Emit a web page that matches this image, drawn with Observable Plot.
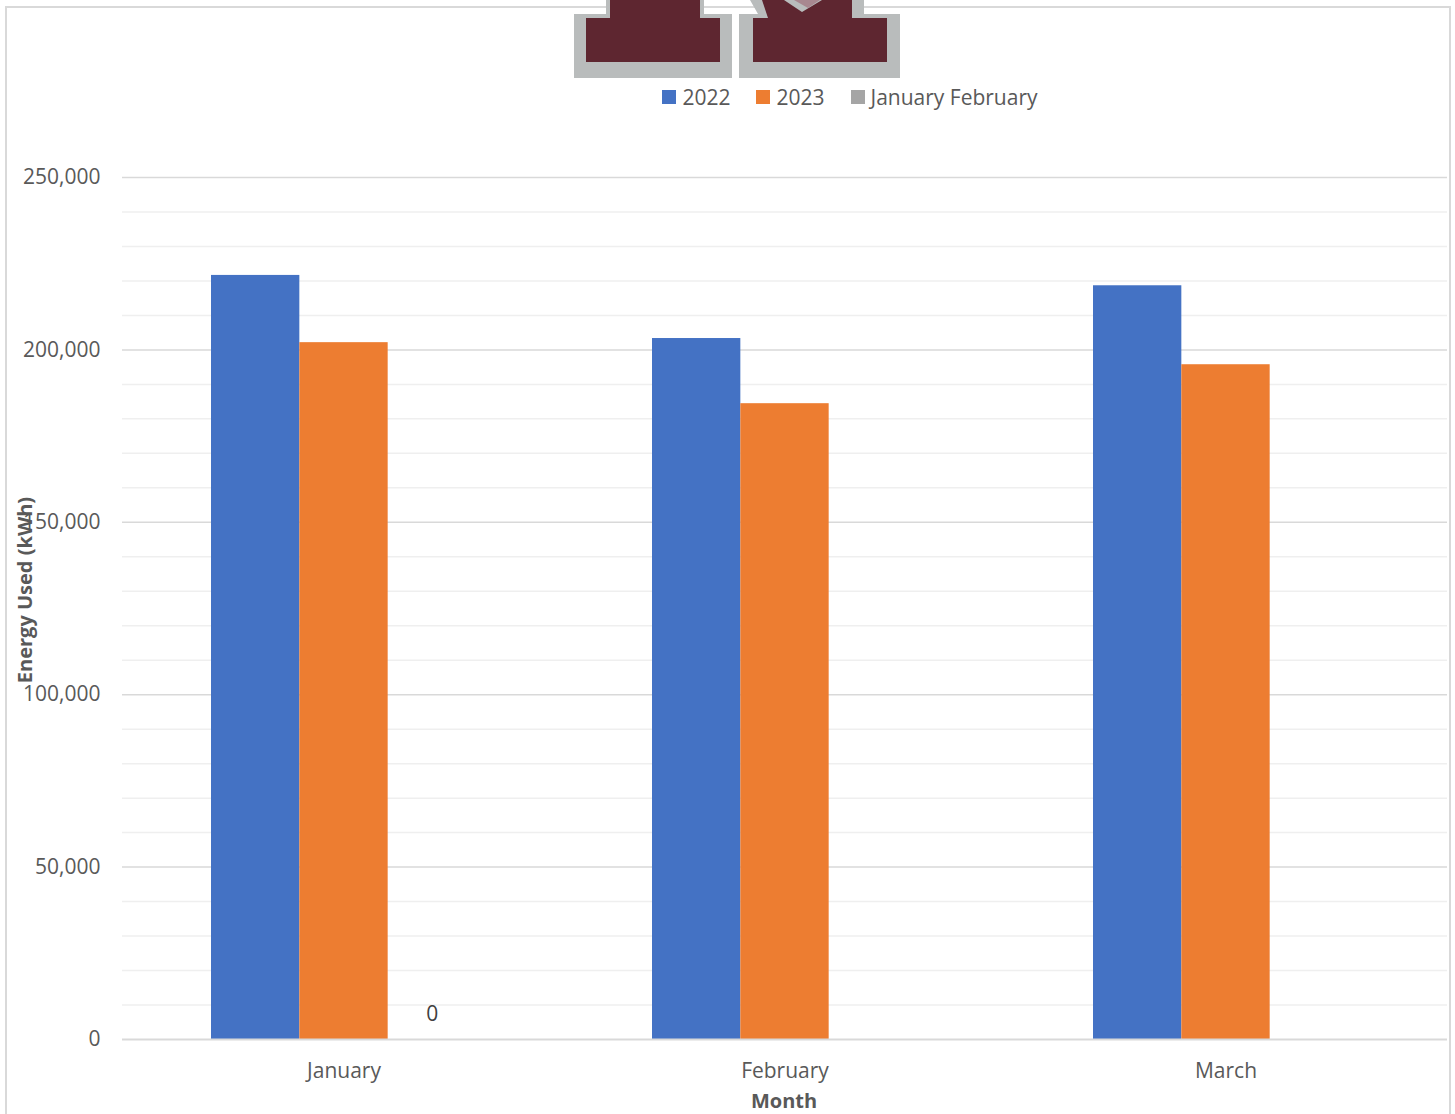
<!DOCTYPE html>
<html>
<head>
<meta charset="utf-8">
<script src="https://cdn.jsdelivr.net/npm/d3@7"></script>
<script src="https://cdn.jsdelivr.net/npm/@observablehq/plot@0.6"></script>
<style>
  html, body { margin: 0; padding: 0; background: #fff; }
  body { width: 1455px; height: 1114px; position: relative; overflow: hidden; font-family: "Open Sans", sans-serif; }
  #frame { position: absolute; left: 5px; top: 6px; width: 1446px; height: 1200px; border: 2px solid #d9d9d9; box-sizing: border-box; }
  #logo { position: absolute; left: 572px; top: 0; }
  #legend { position: absolute; top: 83px; left: 0; width: 1700px; display: flex; justify-content: center; gap: 26px; font-size: 21px; color: #595959; }
  #legend span.item { display: inline-flex; align-items: center; }
  #legend i { display: inline-block; width: 14px; height: 14px; margin-right: 6px; }
  #chart { position: absolute; left: 0; top: 150px; }
  #ytitle { position: absolute; left: 24px; top: 590px; transform: translate(-50%, -50%) rotate(-90deg); font-weight: bold; font-size: 20px; color: #595959; white-space: nowrap; }
  #xtitle { position: absolute; left: 784px; top: 1100px; transform: translate(-50%, -50%); font-weight: bold; font-size: 20px; color: #595959; white-space: nowrap; }
</style>
</head>
<body>
<div id="frame"></div>
<svg id="logo" width="332" height="80" viewBox="0 0 332 80">
  <g>
    <path d="M2 14 H34 V0 H132 V14 H160 V78 H2 Z" fill="#b9bcbc"/>
    <path d="M14 18 H38 V0 H128 V18 H148 V62 H14 Z" fill="#5e2630"/>
    <path d="M167 14 H186 L178 0 H292 V14 H328 V78 H167 Z" fill="#b9bcbc"/>
    <path d="M181 18 H196 L190 0 H212 L230 12 L250 0 H280 V18 H315 V62 H181 Z" fill="#5e2630"/>
    <path d="M222 0 H248 L236 8 Z" fill="#a88890"/>
  </g>
</svg>
<div id="legend"></div>
<div id="chart"></div>
<div id="ytitle">Energy Used (kWh)</div>
<div id="xtitle">Month</div>
<script>
const months = ["January", "February", "March"];
const series = ["2022", "2023", "January February"];
const colors = ["#4472C4", "#ED7D31", "#A5A5A5"];
const values2022 = [221600, 203300, 218600];
const values2023 = [202100, 184400, 195700];
const valuesJanFeb = [0];            // only January has a value (0)
const yTicks = [0, 50000, 100000, 150000, 200000, 250000];
const minorTicks = d3.range(0, 250001, 10000).filter(v => v % 50000 !== 0);

const rows = [];
months.forEach((m, i) => {
  rows.push({month: m, series: "2022", value: values2022[i]});
  rows.push({month: m, series: "2023", value: values2023[i]});
});
const labelRows = valuesJanFeb.map((v, i) => ({month: months[i], series: "January February", value: v}));

// legend
const legend = document.getElementById("legend");
series.forEach((s, i) => {
  const item = document.createElement("span");
  item.className = "item";
  item.innerHTML = `<i style="background:${colors[i]}"></i>${s}`;
  legend.appendChild(item);
});

const W = 1455, H = 964, mL = 122, mR = 8, mT = 27, mB = 75;
const padIn = 0.4, padOut = 0.2;
const step = (W - mL - mR) / (months.length - padIn + 2 * padOut);
const bw = step * (1 - padIn);
const slot = bw / series.length;

const chart = Plot.plot({
  width: W,
  height: H,
  marginLeft: mL,
  marginRight: mR,
  marginTop: mT,
  marginBottom: mB,
  style: {fontFamily: "Open Sans, sans-serif", fontSize: "21px", color: "#595959", background: "transparent"},
  x: {domain: months, paddingInner: padIn, paddingOuter: padOut, label: null, tickSize: 0, tickPadding: 24},
  y: {domain: [0, 250000], ticks: yTicks, tickFormat: d3.format(","), label: null, tickSize: 0, tickPadding: 22},
  marks: [
    Plot.ruleY(minorTicks, {stroke: "#efefef", strokeWidth: 1.5}),
    Plot.ruleY(yTicks.filter(v => v > 0), {stroke: "#d9d9d9", strokeWidth: 1.5}),
    Plot.barY(rows.filter(d => d.series === "2022"), {x: "month", y: "value", fill: colors[0], insetLeft: 0, insetRight: 2 * slot}),
    Plot.barY(rows.filter(d => d.series === "2023"), {x: "month", y: "value", fill: colors[1], insetLeft: slot, insetRight: slot}),
    Plot.ruleY([0], {stroke: "#d9d9d9", strokeWidth: 2}),
    Plot.text(labelRows, {x: "month", y: "value", text: d => d3.format(",")(d.value), dx: slot, dy: -25, fill: "#404040", fontSize: 21})
  ]
});
document.getElementById("chart").appendChild(chart);
</script>
</body>
</html>
